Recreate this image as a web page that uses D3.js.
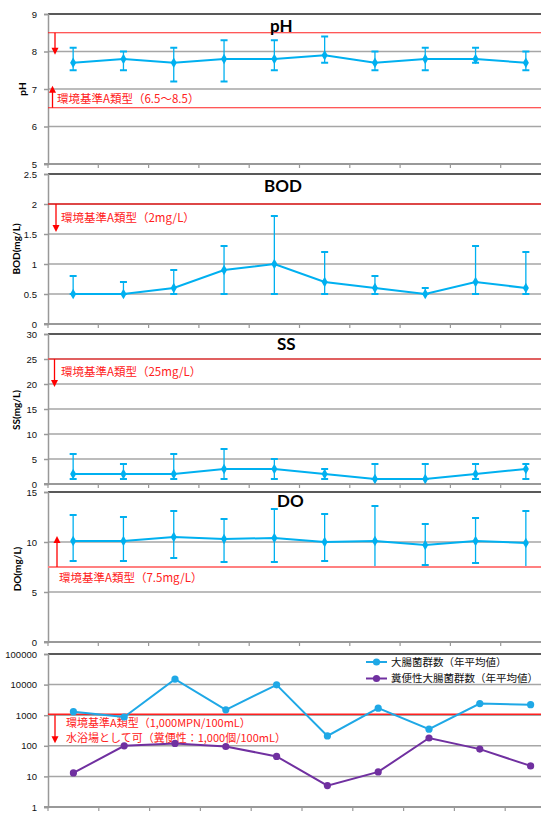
<!DOCTYPE html>
<html>
<head>
<meta charset="utf-8">
<script src="https://cdn.jsdelivr.net/npm/d3@7"></script>
<style>
  body { margin: 0; background: #fff; }
  svg { display: block; font-family: Lato, "Noto Sans", sans-serif; }
  .jp { font-family: "Noto Sans CJK JP", sans-serif; }
</style>
</head>
<body>
<svg id="chart"></svg>
<script>
// 10 survey points (no labels shown on the x axis)
const categories = ["1", "2", "3", "4", "5", "6", "7", "8", "9", "10"];

// pH
const phMean = [7.7, 7.8, 7.7, 7.8, 7.8, 7.9, 7.7, 7.8, 7.8, 7.7];
const phMin = [7.5, 7.5, 7.2, 7.2, 7.5, 7.7, 7.5, 7.5, 7.7, 7.5];
const phMax = [8.1, 8.0, 8.1, 8.3, 8.3, 8.4, 8.0, 8.1, 8.1, 8.0];
const phTicks = [5, 6, 7, 8, 9];
const phStd = [6.5, 8.5];

// BOD
const bodMean = [0.5, 0.5, 0.6, 0.9, 1.0, 0.7, 0.6, 0.5, 0.7, 0.6];
const bodMin = [0.5, 0.5, 0.5, 0.5, 0.5, 0.5, 0.5, 0.5, 0.5, 0.5];
const bodMax = [0.8, 0.7, 0.9, 1.3, 1.8, 1.2, 0.8, 0.6, 1.3, 1.2];
const bodTicks = [0, 0.5, 1, 1.5, 2, 2.5];
const bodStd = 2;

// SS
const ssMean = [2, 2, 2, 3, 3, 2, 1, 1, 2, 3];
const ssMin = [1, 1, 1, 1, 1, 1, 1, 1, 1, 1];
const ssMax = [6, 4, 6, 7, 5, 3, 4, 4, 4, 4];
const ssTicks = [0, 5, 10, 15, 20, 25, 30];
const ssStd = 25;

// DO
const doMean = [10.1, 10.1, 10.5, 10.3, 10.4, 10.0, 10.1, 9.7, 10.1, 9.9];
const doMin = [8.1, 8.1, 8.4, 8.0, 8.0, 8.1, 7.5, 7.7, 7.9, 7.5];
const doMax = [12.7, 12.5, 13.1, 12.3, 13.3, 12.8, 13.6, 11.8, 12.4, 13.1];
const doTicks = [0, 5, 10, 15];
const doStd = 7.5;

// coliform counts (annual mean)
const coliform = [1300, 870, 15000, 1500, 9800, 210, 1700, 350, 2400, 2200];
const fecalColiform = [13, 100, 120, 95, 45, 5, 14, 180, 78, 22];
const coliTicks = [1, 10, 100, 1000, 10000, 100000];
const coliStd = 1000;
const coliNames = ["大腸菌群数（年平均値）", "糞便性大腸菌群数（年平均値）"];

const width = 541, height = 813;
const left = 48;
const blue = "#00B0F0";

const svg = d3.select("#chart").attr("width", width).attr("height", height);

function drawFrame(y, ticks, fmt, top, bottom, x) {
  const right = 570;
  const g = svg.append("g");
  // grid
  ticks.forEach(t => {
    const yy = y(t);
    if (Math.abs(yy - bottom) < 1 || Math.abs(yy - top) < 1) return;
    g.append("line").attr("x1", left).attr("x2", right)
      .attr("y1", yy).attr("y2", yy)
      .attr("stroke", "#A6A6A6").attr("stroke-width", 1.5);
  });
  // top border
  g.append("line").attr("x1", left).attr("x2", right)
    .attr("y1", top).attr("y2", top)
    .attr("stroke", "#222").attr("stroke-width", 1.5);
  // left axis
  const ax = g.append("g").attr("transform", `translate(${left},0)`)
    .call(d3.axisLeft(y).tickValues(ticks).tickFormat(fmt).tickSize(4).tickPadding(7));
  ax.select(".domain").attr("stroke", "#999").attr("stroke-width", 1.5);
  ax.selectAll(".tick line").attr("stroke", "#999").attr("stroke-width", 1.5);
  ax.selectAll(".tick text").attr("font-size", 9.5).attr("fill", "#111");
  // bottom axis with ticks on category boundaries
  g.append("line").attr("x1", left - 4).attr("x2", right)
    .attr("y1", bottom).attr("y2", bottom)
    .attr("stroke", "#999").attr("stroke-width", 2);
  const bounds = categories.map(c => x(c)).concat([x.range()[1]]);
  g.selectAll(null).data(bounds).join("line")
    .attr("x1", d => d).attr("x2", d => d)
    .attr("y1", bottom).attr("y2", bottom + 4)
    .attr("stroke", "#999").attr("stroke-width", 1.2);
}

function arrow(xx, y1, y2, color) {
  const dir = y2 > y1 ? 1 : -1;
  svg.append("line").attr("x1", xx).attr("x2", xx)
    .attr("y1", y1).attr("y2", y2 - dir * 6)
    .attr("stroke", color).attr("stroke-width", 1.3);
  svg.append("path")
    .attr("d", `M${xx - 3.5},${y2 - dir * 7}L${xx + 3.5},${y2 - dir * 7}L${xx},${y2}Z`)
    .attr("fill", color);
}

function stdLine(yy, color, w, right) {
  svg.append("line").attr("x1", left).attr("x2", right)
    .attr("y1", yy).attr("y2", yy)
    .attr("stroke", color).attr("stroke-width", w);
}

function redText(txt, xx, yy, color, size) {
  svg.append("text").attr("class", "jp").attr("x", xx).attr("y", yy)
    .attr("font-size", size || 11.5).attr("fill", color).text(txt);
}

function yLabel(txt, xx, yy) {
  svg.append("text").attr("transform", `translate(${xx},${yy}) rotate(-90)`)
    .attr("text-anchor", "middle").attr("dy", "0.35em")
    .attr("font-size", 10).attr("font-weight", "bold").text(txt);
}

function title(txt, xx, yy) {
  svg.append("text").attr("x", xx).attr("y", yy)
    .attr("font-size", 17).attr("font-weight", "bold").text(txt);
}

function errorPanel(o) {
  const x = d3.scaleBand().domain(categories).range([left, 551]);
  const cx = c => x(c) + x.bandwidth() / 2;
  const y = d3.scaleLinear().domain(o.domain).range([o.bottom, o.top]);
  drawFrame(y, o.ticks, d3.format("~g"), o.top, o.bottom, x);

  // error bars
  const eb = svg.append("g").attr("stroke", blue).attr("stroke-width", 1.3);
  categories.forEach((c, i) => {
    const xx = cx(c);
    eb.append("line").attr("x1", xx).attr("x2", xx)
      .attr("y1", y(o.min[i])).attr("y2", y(o.max[i]));
    [o.min[i], o.max[i]].forEach(v => {
      eb.append("line").attr("x1", xx - 3.5).attr("x2", xx + 3.5)
        .attr("y1", y(v)).attr("y2", y(v)).attr("stroke-width", 2);
    });
  });
  // mean line
  const line = d3.line().x((d, i) => cx(categories[i])).y(d => y(d));
  svg.append("path").datum(o.mean).attr("d", line)
    .attr("fill", "none").attr("stroke", blue).attr("stroke-width", 2);
  svg.selectAll(null).data(o.mean).join("path")
    .attr("transform", (d, i) => `translate(${cx(categories[i])},${y(d)})`)
    .attr("d", d3.symbol(d3.symbolDiamond, 32))
    .attr("fill", blue);
  return y;
}

// ---- pH ----
let y = errorPanel({ top: 14, bottom: 164, domain: [5, 9], ticks: phTicks,
  mean: phMean, min: phMin, max: phMax });
stdLine(y(phStd[1]), "#FF2020", 1.2, 560);
stdLine(y(phStd[0]), "#FF2020", 1.2, 560);
arrow(55, y(phStd[1]), y(phStd[1]) + 22, "#FF0000");
arrow(52.5, y(phStd[0]), y(phStd[0]) - 22, "#FF0000");
redText("環境基準A類型（6.5〜8.5）", 57, 103, "#FF2020");
title("pH", 270, 32);
yLabel("pH", 22, 89);

// ---- BOD ----
y = errorPanel({ top: 174, bottom: 324, domain: [0, 2.5], ticks: bodTicks,
  mean: bodMean, min: bodMin, max: bodMax });
stdLine(y(bodStd), "#E82020", 1.5, 560);
arrow(56, y(bodStd), y(bodStd) + 28, "#FF0000");
redText("環境基準A類型（2mg/L）", 61, 222, "#FF2020");
title("BOD", 264, 192);
yLabel("BOD(mg/L)", 16, 249);

// ---- SS ----
y = errorPanel({ top: 334, bottom: 484, domain: [0, 30], ticks: ssTicks,
  mean: ssMean, min: ssMin, max: ssMax });
stdLine(y(ssStd), "#E06060", 2, 560);
arrow(54.5, y(ssStd), y(ssStd) + 28, "#FF0000");
redText("環境基準A類型（25mg/L）", 61, 376, "#FF2020");
title("SS", 277, 350);
yLabel("SS(mg/L)", 16, 410);

// ---- DO ----
y = errorPanel({ top: 492, bottom: 642, domain: [0, 15], ticks: doTicks,
  mean: doMean, min: doMin, max: doMax });
stdLine(y(doStd), "#FF8080", 2, 560);
arrow(57, y(doStd), y(doStd) - 31, "#FF0000");
redText("環境基準A類型（7.5mg/L）", 59, 582, "#FF2020");
title("DO", 277, 507);
yLabel("DO(mg/L)", 17, 569);

// ---- coliform (log scale) ----
{
  const top = 654, bottom = 807;
  const x = d3.scaleBand().domain(categories).range([left, 556]);
  const cx = c => x(c) + x.bandwidth() / 2;
  const yl = d3.scaleLog().domain([1, 100000]).range([bottom, top]);
  drawFrame(yl, coliTicks, d3.format("d"), top, bottom, x);

  stdLine(yl(coliStd) - 1, "#FF2020", 1.5, 570);
  arrow(55, yl(coliStd), yl(coliStd) + 28, "#FF0000");
  redText("環境基準A類型（1,000MPN/100mL）", 66, 727, "#FF2020", 11);
  redText("水浴場として可（糞便性：1,000個/100mL）", 66, 742, "#FF2020", 11);

  const colors = ["#1FA8E6", "#7030A0"];
  [coliform, fecalColiform].forEach((s, k) => {
    const line = d3.line().x((d, i) => cx(categories[i])).y(d => yl(d));
    svg.append("path").datum(s).attr("d", line)
      .attr("fill", "none").attr("stroke", colors[k]).attr("stroke-width", 2);
    svg.selectAll(null).data(s).join("circle")
      .attr("cx", (d, i) => cx(categories[i])).attr("cy", d => yl(d))
      .attr("r", 3.6).attr("fill", colors[k]);
  });

  // legend
  coliNames.forEach((name, k) => {
    const ly = 662 + k * 16.5;
    svg.append("line").attr("x1", 366).attr("x2", 387)
      .attr("y1", ly).attr("y2", ly)
      .attr("stroke", colors[k]).attr("stroke-width", 2);
    svg.append("circle").attr("cx", 376.5).attr("cy", ly).attr("r", 3.6)
      .attr("fill", colors[k]);
    svg.append("text").attr("class", "jp").attr("x", 391).attr("y", ly)
      .attr("dy", "0.35em").attr("font-size", 10.5).attr("fill", "#111").text(name);
  });
}
</script>
</body>
</html>
